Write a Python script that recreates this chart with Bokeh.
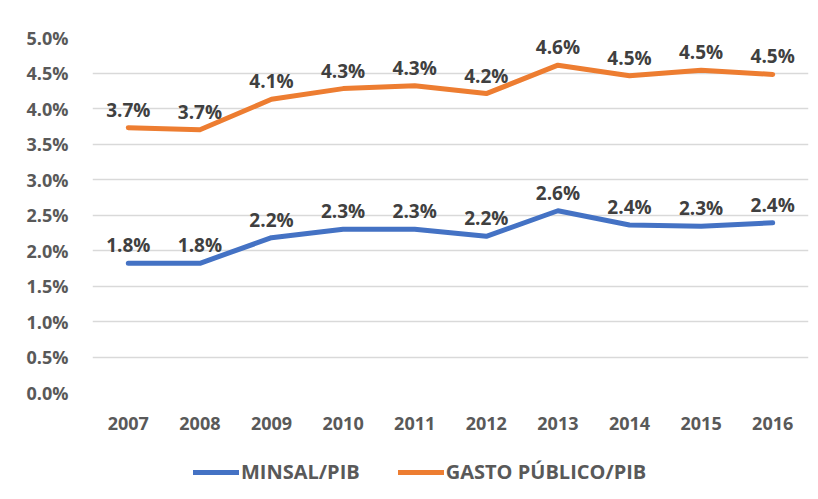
from bokeh.plotting import figure
from bokeh.layouts import column
from bokeh.models import (Range1d, ColumnDataSource, Legend, LegendItem, FixedTicker,
                          CustomJSTickFormatter)
from bokeh.core.properties import value
from bokeh.embed import file_html
from bokeh.resources import INLINE

years = ["2007", "2008", "2009", "2010", "2011", "2012", "2013", "2014", "2015", "2016"]
minsal_pib = [1.82, 1.82, 2.18, 2.30, 2.30, 2.20, 2.56, 2.36, 2.34, 2.39]
gasto_publico_pib = [3.73, 3.70, 4.13, 4.28, 4.32, 4.21, 4.61, 4.46, 4.54, 4.48]
y_ticks = [0.0, 0.5, 1.0, 1.5, 2.0, 2.5, 3.0, 3.5, 4.0, 4.5, 5.0]
series_names = ["MINSAL/PIB", "GASTO PÚBLICO/PIB"]

BLUE = "#4472C4"
ORANGE = "#ED7D31"
TEXT = "#595959"
LABEL = "#404040"
FONT = "Open Sans"

p = figure(x_range=years, y_range=Range1d(0, 5.0), width=818, height=445,
           output_backend="svg", toolbar_location=None,
           min_border_left=92, min_border_right=10, min_border_top=37, min_border_bottom=53)
p.outline_line_color = None
p.xgrid.grid_line_color = None
p.ygrid.grid_line_color = "#d9d9d9"
p.ygrid.grid_line_width = 1.5
p.yaxis.ticker = FixedTicker(ticks=y_ticks)
p.yaxis.formatter = CustomJSTickFormatter(code="return tick.toFixed(1) + '%'")
for ax in (p.xaxis, p.yaxis):
    ax.axis_line_color = None
    ax.major_tick_line_color = None
    ax.minor_tick_line_color = None
    ax.major_label_text_font = FONT
    ax.major_label_text_font_style = "bold"
    ax.major_label_text_font_size = "18px"
    ax.major_label_text_color = TEXT
p.yaxis.major_label_standoff = 18
p.xaxis.major_label_standoff = 18

src = ColumnDataSource(dict(
    x=years,
    minsal=minsal_pib,
    gasto=gasto_publico_pib,
    minsal_lbl=[f"{v:.1f}%" for v in minsal_pib],
    gasto_lbl=[f"{v:.1f}%" for v in gasto_publico_pib],
))

p.line("x", "minsal", source=src, line_color=BLUE, line_width=5, line_cap="round", line_join="round")
p.line("x", "gasto", source=src, line_color=ORANGE, line_width=5, line_cap="round", line_join="round")

for col, lbl in (("minsal", "minsal_lbl"), ("gasto", "gasto_lbl")):
    p.text("x", col, text=lbl, source=src, text_font=value(FONT), text_font_style="bold",
           text_font_size="19px", text_color=LABEL, text_align="center", text_baseline="bottom",
           y_offset=-5)

# legend strip (separate figure so the legend is not clipped)
lg = figure(x_range=Range1d(0, 1), y_range=Range1d(0, 1), width=818, height=54,
            output_backend="svg", toolbar_location=None,
            min_border_left=0, min_border_right=0, min_border_top=0, min_border_bottom=0)
lg.axis.visible = False
lg.grid.visible = False
lg.outline_line_color = None
l1 = lg.line([-3, -2], [-3, -3], line_color=BLUE, line_width=5, line_cap="round")
l2 = lg.line([-3, -2], [-3, -3], line_color=ORANGE, line_width=5, line_cap="round")
legend = Legend(items=[LegendItem(label=series_names[0], renderers=[l1]),
                       LegendItem(label=series_names[1], renderers=[l2])],
                orientation="horizontal", location=(101, 14),
                label_text_font=FONT, label_text_font_style="bold",
                label_text_font_size="20px", label_text_color=TEXT,
                glyph_width=46, label_standoff=2, spacing=38, padding=0, margin=0,
                background_fill_alpha=0, border_line_color=None)
lg.add_layout(legend, "center")

open("out.html", "w").write(file_html(column(p, lg, spacing=0), INLINE))
